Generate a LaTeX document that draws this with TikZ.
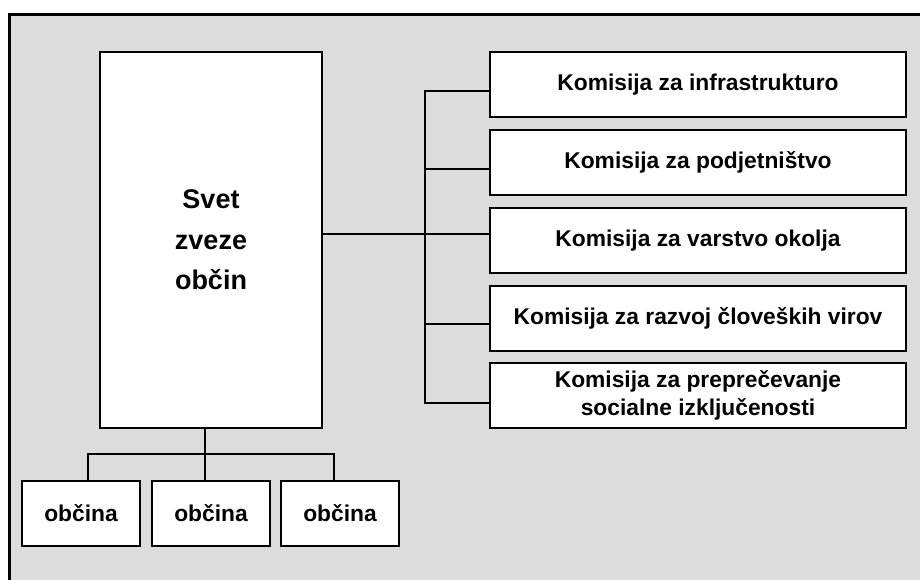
\documentclass[tikz,border=0pt]{standalone}
\usepackage{fontspec}
\setmainfont{Liberation Sans}
\definecolor{bgc}{RGB}{220,220,220}
\begin{document}
\begin{tikzpicture}[x=1pt,y=-1pt,
  box/.style={draw=black, line width=1.4pt, fill=white, align=center, inner sep=0pt,
    font=\fontsize{22.8}{27.5}\selectfont\bfseries},
  kom/.style={box, minimum width=416pt, minimum height=65pt},
  obc/.style={box, minimum width=118pt, minimum height=65pt},
  link/.style={line width=1.3pt, line cap=rect}]
\useasboundingbox (0,0) rectangle (920,579);
\fill[bgc] (9.5,14) rectangle (925,585);
\draw[line width=3pt] (9.5,590) -- (9.5,14) -- (930,14);

\node[box, minimum width=222pt, minimum height=376pt,
  font=\fontsize{27}{40.5}\selectfont\bfseries] (svet) at (211,240) {Svet\\zveze\\občin};

\node[kom] (k1) at (698,84.5) {Komisija za infrastrukturo};
\node[kom] (k2) at (698,162.5) {Komisija za podjetništvo};
\node[kom] (k3) at (698,240.5) {Komisija za varstvo okolja};
\node[kom] (k4) at (698,318.5) {Komisija za razvoj človeških virov};
\node[kom] (k5) at (698,395.5) {Komisija za preprečevanje\\socialne izključenosti};

\node[obc] (o1) at (81,513.5) {občina};
\node[obc] (o2) at (211,513.5) {občina};
\node[obc] (o3) at (340,513.5) {občina};

\coordinate (b1) at (425,91);
\coordinate (b2) at (425,169);
\coordinate (b3) at (425,234);
\coordinate (b4) at (425,324);
\coordinate (b5) at (425,403);
\draw[link] (svet.east |- b3) -- (b3);
\draw[link] (b1) -- (b5);
\draw[link] (b1) -- (k1.west |- b1);
\draw[link] (b2) -- (k2.west |- b2);
\draw[link] (b3) -- (k3.west |- b3);
\draw[link] (b4) -- (k4.west |- b4);
\draw[link] (b5) -- (k5.west |- b5);

\coordinate (h1) at (88,454);
\coordinate (h2) at (205,454);
\coordinate (h3) at (334,454);
\draw[link] (svet.south -| h2) -- (h2);
\draw[link] (h1) -- (h3);
\draw[link] (h1) -- (o1.north -| h1);
\draw[link] (h2) -- (o2.north -| h2);
\draw[link] (h3) -- (o3.north -| h3);
\end{tikzpicture}
\end{document}
